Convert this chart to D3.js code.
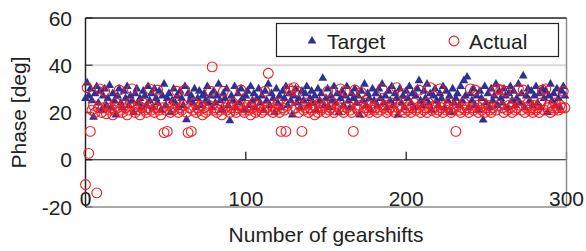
<!DOCTYPE html>
<html>
<head>
<meta charset="utf-8">
<script src="https://cdn.jsdelivr.net/npm/d3@7"></script>
<style>
    body { margin: 0; background: #fff; }
    text { font-family: "Liberation Sans", Arial, sans-serif; fill: #222; }
</style>
</head>
<body>
<div id="chart"></div>
<script>
////////////////////////////
// data                   //
////////////////////////////

// phase of the target, one value per gearshift (0..299)
let targetPhase = [
    26, 32.5, 27, 30, 25, 18, 28, 31, 24, 29, 21, 27, 30, 23, 26, 31.5, 22, 28, 25, 19,
    27, 30, 24, 22, 29, 26, 31, 23, 27, 25, 20, 28, 30, 24, 26, 22, 29, 27, 23, 31,
    25, 28, 22, 30, 26, 24, 29, 21, 27, 32, 23, 26, 28, 20, 25, 30, 24, 27, 22, 29,
    26, 23, 31, 17, 28, 25, 27, 24, 30, 22, 26, 29, 23, 27, 28, 25, 31, 24, 27, 22,
    29, 24, 27, 32, 25, 21, 28, 26, 30, 23, 16.5, 27, 25, 31, 22, 28, 24, 30, 26, 21,
    27, 29, 23, 31, 25, 28, 22, 26, 30, 24, 27, 21, 29, 25, 32, 23, 28, 26, 20, 30,
    24, 27, 22, 29, 26, 31, 23, 28, 25, 19, 27, 30, 24, 26, 22, 29, 25, 28, 31, 23,
    26, 29, 24, 27, 21, 30, 25, 28, 34.5, 23, 26, 30, 22, 27, 25, 31, 24, 28, 20, 26,
    29, 23, 27, 31, 25, 22, 28, 26, 30, 24, 27, 19, 29, 25, 32, 23, 28, 26, 21, 30,
    25, 28, 23, 30, 26, 32, 24, 27, 22, 29, 25, 31, 23, 28, 26, 19, 30, 24, 27, 22,
    29, 26, 31, 24, 28, 22, 27, 30, 33.5, 25, 23, 29, 26, 32, 24, 28, 21, 27, 30, 25,
    23, 28, 26, 31, 22, 29, 25, 27, 20, 30, 24, 26, 28, 23, 31, 25, 33.5, 27, 35, 22,
    28, 25, 30, 23, 27, 21, 29, 26, 16.8, 31, 24, 28, 22, 30, 25, 27, 32, 23, 29, 26,
    24, 30, 27, 22, 28, 31, 25, 29, 23, 26, 32, 24, 28, 35.5, 22, 27, 30, 25, 29, 23,
    27, 31, 24, 28, 22, 30, 26, 29, 20, 27, 32, 25, 28, 23, 30, 26, 22, 29, 31, 27
];

// measured phase
let actualPhase = [
    -10.5, 30.5, 2.7, 12, 21, 23, 20, -14, 22, 30, 20, 22, 29, 19.5, 23, 21, 22, 19, 21, 24,
    22, 29.5, 21, 20, 23, 22, 19, 21, 24, 30, 22, 20, 21, 23, 19, 22, 24, 21, 20, 22,
    30, 21, 23, 20, 22, 29.5, 21, 19, 22, 11.5, 21, 12, 23, 20, 22, 21, 24, 29, 20, 22,
    21, 23, 29.5, 20, 11.5, 22, 12, 21, 24, 20, 22, 21, 23, 19, 22, 20, 21, 23, 29, 39.3,
    21, 22, 20, 23, 21, 19, 29, 22, 21, 23, 20, 22, 24, 21, 20, 22, 23, 29.5, 21, 20,
    22, 23, 21, 19, 22, 24, 20, 21, 23, 22, 20, 21, 29, 22, 36.6, 21, 23, 20, 22, 21,
    24, 20, 12, 22, 21, 12, 23, 30, 29, 21, 30.5, 22, 29, 20, 23, 12, 21, 22, 24, 20,
    22, 21, 23, 19, 22, 20, 24, 21, 22, 23, 20, 29, 21, 22, 24, 20, 21, 23, 22, 30,
    21, 20, 29, 22, 23, 21, 20, 12, 29.5, 22, 21, 23, 28.5, 20, 22, 24, 21, 20, 23, 22,
    21, 22, 20, 24, 21, 30, 22, 23, 20, 21, 22, 24, 21, 20, 30.5, 22, 23, 21, 28, 20,
    22, 21, 23, 20, 22, 24, 21, 22, 29.5, 20, 23, 21, 22, 20, 24, 30.5, 21, 22, 23, 20,
    21, 30, 22, 20, 23, 21, 22, 24, 20, 21, 22, 12, 23, 21, 20, 22, 24, 21, 22, 20,
    30, 22, 21, 29.5, 23, 20, 22, 21, 24, 20, 22, 23, 21, 20, 22, 29, 21, 30, 23, 29.5,
    22, 20, 29, 21, 23, 22, 20, 24, 21, 22, 30, 23, 21, 29.5, 20, 22, 24, 21, 22, 20,
    23, 21, 22, 20, 24, 29.5, 21, 30, 22, 23, 20, 22, 21, 24, 22, 21, 23, 22, 29, 22
];

let xTicks = [0, 100, 200, 300];
let yTicks = [-20, 0, 20, 40, 60];
let seriesNames = ["Target", "Actual"];

////////////////////////////
// chart                  //
////////////////////////////

let width = 586, height = 251;
let plot = { left: 85.5, right: 566.5, top: 18, bottom: 207 };

let blue = "#2e3192", red = "#ee1c25";

let svg = d3.select("#chart").append("svg")
    .attr("width", width)
    .attr("height", height);

let x = d3.scaleLinear().domain([0, 300]).range([plot.left, plot.right]);
let y = d3.scaleLinear().domain([-20, 60]).range([plot.bottom, plot.top]);

// light grid lines
svg.append("g").selectAll("line")
    .data(yTicks.filter(function(d) { return d > 0 && d < 60 }))
    .enter()
    .append("line")
    .attr("x1", plot.left).attr("x2", plot.right)
    .attr("y1", y).attr("y2", y)
    .attr("stroke", "#d9d9d9")
    .attr("stroke-width", 2);

// y tick marks (inside)
svg.append("g").selectAll("line")
    .data(yTicks)
    .enter()
    .append("line")
    .attr("x1", plot.left).attr("x2", plot.left + 7)
    .attr("y1", y).attr("y2", y)
    .attr("stroke", "#555")
    .attr("stroke-width", 1.5);

// zero line with x ticks
svg.append("line")
    .attr("x1", plot.left).attr("x2", plot.right)
    .attr("y1", y(0)).attr("y2", y(0))
    .attr("stroke", "#111")
    .attr("stroke-width", 1.2);

svg.append("g").selectAll("line")
    .data(xTicks.slice(1))
    .enter()
    .append("line")
    .attr("x1", x).attr("x2", x)
    .attr("y1", y(0)).attr("y2", y(0) - 8)
    .attr("stroke", "#111")
    .attr("stroke-width", 1.2);

// plot frame
svg.append("line")
    .attr("x1", plot.right).attr("x2", plot.right)
    .attr("y1", plot.top).attr("y2", plot.bottom)
    .attr("stroke", "#8c8c8c").attr("stroke-width", 1.5);
svg.append("line")
    .attr("x1", plot.left).attr("x2", plot.right)
    .attr("y1", plot.bottom).attr("y2", plot.bottom)
    .attr("stroke", "#8c8c8c").attr("stroke-width", 1.5);
svg.append("line")
    .attr("x1", plot.left).attr("x2", plot.right)
    .attr("y1", plot.top).attr("y2", plot.top)
    .attr("stroke", "#222").attr("stroke-width", 1.5);
svg.append("line")
    .attr("x1", plot.left).attr("x2", plot.left)
    .attr("y1", plot.top).attr("y2", plot.bottom)
    .attr("stroke", "#222").attr("stroke-width", 1.5);

// markers
let triangle = d3.symbol().type(d3.symbolTriangle).size(34);

svg.append("g").selectAll("path")
    .data(targetPhase)
    .enter()
    .append("path")
    .attr("d", triangle)
    .attr("transform", function(d, i) { return "translate(" + x(i) + "," + y(d) + ")" })
    .attr("fill", blue);

svg.append("g").selectAll("circle")
    .data(actualPhase)
    .enter()
    .append("circle")
    .attr("cx", function(d, i) { return x(i) })
    .attr("cy", function(d) { return y(d) })
    .attr("r", 4.9)
    .attr("fill", "none")
    .attr("stroke", red)
    .attr("stroke-width", 1.1);

// tick labels
svg.append("g").selectAll("text")
    .data(yTicks)
    .enter()
    .append("text")
    .attr("x", 72)
    .attr("y", y)
    .attr("dy", "0.36em")
    .attr("text-anchor", "end")
    .style("font-size", "21px")
    .text(function(d) { return d });

svg.append("g").selectAll("text")
    .data(xTicks)
    .enter()
    .append("text")
    .attr("x", x)
    .attr("y", 206)
    .attr("text-anchor", "middle")
    .style("font-size", "21px")
    .text(function(d) { return d });

// axis titles
svg.append("text")
    .attr("x", (plot.left + plot.right) / 2)
    .attr("y", 242)
    .attr("text-anchor", "middle")
    .style("font-size", "21px")
    .text("Number of gearshifts");

svg.append("text")
    .attr("transform", "translate(26," + ((plot.top + plot.bottom) / 2) + ")rotate(-90)")
    .attr("text-anchor", "middle")
    .style("font-size", "21px")
    .text("Phase [deg]");

// legend
let legend = svg.append("g");
legend.append("rect")
    .attr("x", 276.5).attr("y", 23.5)
    .attr("width", 282).attr("height", 33)
    .attr("fill", "#fff")
    .attr("stroke", "#222")
    .attr("stroke-width", 1.2);

legend.append("path")
    .attr("d", triangle)
    .attr("transform", "translate(312,41)")
    .attr("fill", blue);

legend.append("circle")
    .attr("cx", 454).attr("cy", 41)
    .attr("r", 4.9)
    .attr("fill", "none")
    .attr("stroke", red)
    .attr("stroke-width", 1.1);

legend.selectAll("text.leg")
    .data(seriesNames)
    .enter()
    .append("text")
    .attr("class", "leg")
    .attr("x", function(d, i) { return i == 0 ? 327 : 469 })
    .attr("y", 48.5)
    .style("font-size", "21px")
    .text(function(d) { return d });
</script>
</body>
</html>
